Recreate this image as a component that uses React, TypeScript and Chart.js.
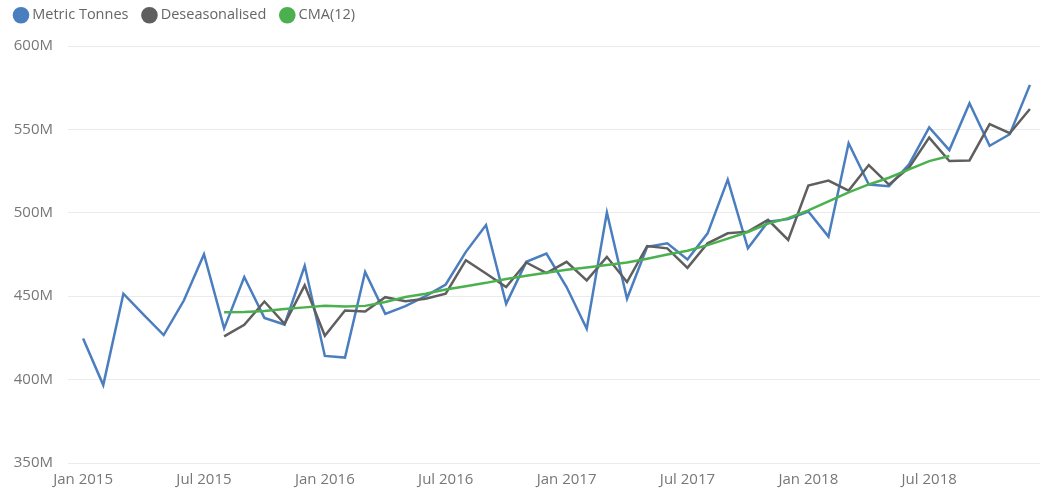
import React, { useEffect, useRef } from "react";
import { Chart, registerables } from "chart.js";

Chart.register(...registerables);

const months: string[] = [
  "Jan 2015", "Feb 2015", "Mar 2015", "Apr 2015", "May 2015", "Jun 2015", "Jul 2015", "Aug 2015", "Sep 2015", "Oct 2015", "Nov 2015", "Dec 2015",
  "Jan 2016", "Feb 2016", "Mar 2016", "Apr 2016", "May 2016", "Jun 2016", "Jul 2016", "Aug 2016", "Sep 2016", "Oct 2016", "Nov 2016", "Dec 2016",
  "Jan 2017", "Feb 2017", "Mar 2017", "Apr 2017", "May 2017", "Jun 2017", "Jul 2017", "Aug 2017", "Sep 2017", "Oct 2017", "Nov 2017", "Dec 2017",
  "Jan 2018", "Feb 2018", "Mar 2018", "Apr 2018", "May 2018", "Jun 2018", "Jul 2018", "Aug 2018", "Sep 2018", "Oct 2018", "Nov 2018", "Dec 2018",
];

const metricTonnes: number[] = [
  424.7, 396.7, 451.5, 439, 426.7, 447.4, 475.2, 430.7, 461.5, 437, 433, 468.2,
  414.2, 413.2, 464.5, 439.4, 444, 450, 457, 476.6, 492.7, 445.4, 470.6, 475.6,
  455.5, 430.5, 500.2, 448.5, 479.6, 481.7, 472, 487.7, 519.9, 478.7, 494.7, 496.2,
  500.8, 485.7, 541.7, 516.9, 515.9, 529, 551.2, 537.6, 565.7, 540.2, 547.1, 576.7,
];

const deseasonalised: (number | null)[] = [
  null, null, null, null, null, null, null, 425.9, 432.9, 446.8, 433.4, 456.5,
  426.3, 441.4, 440.8, 449.4, 447, 448.5, 451.5, 471.6, 463.6, 455.5, 470.2, 463.9,
  470.6, 459.5, 473.6, 458.5, 480.1, 478.7, 467, 481.7, 487.7, 488.7, 495.8, 483.7,
  516.3, 519.3, 513.3, 528.6, 516.9, 527, 545.1, 531, 531.4, 553.2, 547.7, 562.2,
];

const cma12: (number | null)[] = [
  null, null, null, null, null, null, null, 440.4, 440.5, 441.2, 442.3, 443.3,
  444.2, 443.8, 444.2, 446.5, 449.5, 451.5, 454, 456, 458, 460.3, 462.2, 464,
  465.8, 467.2, 468.7, 470.2, 472.5, 475, 477.3, 480.6, 484.5, 488.5, 493.5, 496.8,
  501.4, 506.8, 512.3, 517, 521, 526, 531, 534, null, null, null, null,
];

const yTicks: number[] = [350, 400, 450, 500, 550, 600];

const toPoints = (arr: (number | null)[]) =>
  arr.map((v, i) => ({ x: i, y: v }));

const legendHeightPlugin = {
  id: "legendHeight",
  beforeInit(chart: any) {
    const legend = chart.legend;
    if (!legend) return;
    const origFit = legend.fit;
    legend.fit = function () {
      origFit.call(this);
      this.height = 55;
    };
  },
};

export default function App() {
  const canvasRef = useRef<HTMLCanvasElement | null>(null);

  useEffect(() => {
    if (!canvasRef.current) return;
    const fontFamily = "'Open Sans', sans-serif";
    const chart = new Chart(canvasRef.current, {
      type: "line",
      data: {
        datasets: [
          {
            label: "Metric Tonnes",
            data: toPoints(metricTonnes) as any,
            borderColor: "#4A7EBF",
            backgroundColor: "#4A7EBF",
            borderWidth: 2.5,
            pointRadius: 0,
            tension: 0,
            order: 3,
          },
          {
            label: "Deseasonalised",
            data: toPoints(deseasonalised) as any,
            borderColor: "#5F5F5F",
            backgroundColor: "#5F5F5F",
            borderWidth: 2.5,
            pointRadius: 0,
            tension: 0,
            order: 2,
          },
          {
            label: "CMA(12)",
            data: toPoints(cma12) as any,
            borderColor: "#4BB14E",
            backgroundColor: "#4BB14E",
            borderWidth: 2.5,
            pointRadius: 0,
            tension: 0,
            order: 1,
          },
        ],
      },
      plugins: [legendHeightPlugin],
      options: {
        animation: false,
        responsive: false,
        maintainAspectRatio: false,
        layout: { padding: { left: 0, right: 9, top: -9, bottom: -5 } },
        plugins: {
          tooltip: { enabled: false },
          legend: {
            position: "top",
            align: "start",
            labels: {
              usePointStyle: true,
              pointStyle: "circle",
              boxWidth: 8,
              boxHeight: 10,
              padding: 17,
              color: "#666666",
              font: { family: fontFamily, size: 14.5 },
              sort: (a: any, b: any) => a.datasetIndex - b.datasetIndex,
            },
          },
        },
        scales: {
          x: {
            type: "linear",
            min: -0.75,
            max: 47.5,
            grid: { display: false, drawTicks: false },
            border: { display: false },
            ticks: {
              stepSize: 6,
              includeBounds: false,
              autoSkip: false,
              maxRotation: 0,
              padding: 8,
              color: "#777777",
              font: { family: fontFamily, size: 15 },
              callback: (v: any) => (Number.isInteger(v) && months[v] ? months[v] : ""),
            },
          },
          y: {
            type: "linear",
            min: yTicks[0],
            max: yTicks[yTicks.length - 1],
            afterFit: (scale: any) => {
              scale.width = 68;
            },
            afterBuildTicks: (scale: any) => {
              scale.ticks = yTicks.map((v) => ({ value: v }));
            },
            grid: { color: "#EBEBEB", lineWidth: 1, drawTicks: false },
            border: { display: false },
            ticks: {
              padding: 15,
              color: "#777777",
              font: { family: fontFamily, size: 15 },
              callback: (v: any) => `${v}M`,
            },
          },
        },
      },
    });
    return () => chart.destroy();
  }, []);

  return (
    <div style={{ position: "fixed", left: 0, top: 0, width: 1049, height: 492, background: "#fff" }}>
      <canvas ref={canvasRef} width={1049} height={492} style={{ width: 1049, height: 492 }} />
    </div>
  );
}
